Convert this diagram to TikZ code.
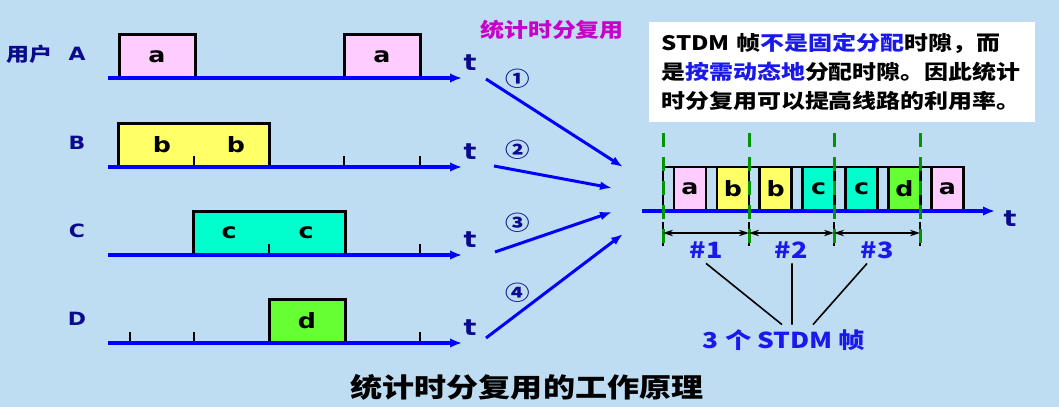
\documentclass[tikz,border=0pt]{standalone}
\usepackage{fontspec}
\setmainfont{Noto Sans CJK SC}[FakeStretch=1.2]
\newfontfamily\latinsans{DejaVu Sans}[FakeStretch=1.2]
\usetikzlibrary{arrows.meta,positioning,calc}

\definecolor{bgblue}{RGB}{190,220,242}
\definecolor{navy}{RGB}{10,10,140}
\definecolor{tblue}{RGB}{25,25,235}
\definecolor{magent}{RGB}{200,0,200}
\definecolor{pinkA}{RGB}{255,204,255}
\definecolor{yellowB}{RGB}{255,255,102}
\definecolor{tealC}{RGB}{0,255,204}
\definecolor{greenD}{RGB}{102,255,51}
\definecolor{dashgreen}{RGB}{0,150,0}

\tikzset{
  timeaxis/.style={blue, line width=0.8mm, -{Latex[length=3mm,width=2.4mm]}},
  userbox/.style={draw, line width=0.75mm, minimum height=11mm, inner sep=0pt,
    font=\latinsans\fontsize{15}{15}\selectfont\bfseries},
  slot/.style={draw, line width=0.7mm, minimum width=8mm, minimum height=11mm,
    inner sep=0pt, font=\latinsans\fontsize{15}{15}\selectfont\bfseries},
  boxtext/.style={font=\latinsans\fontsize{15}{15}\selectfont\bfseries},
  userlabel/.style={navy, font=\latinsans\fontsize{13}{13}\selectfont\bfseries},
  tlabel/.style={navy, font=\latinsans\fontsize{16}{16}\selectfont\bfseries},
  tickmark/.style={line width=0.5mm},
  feed/.style={blue, line width=0.75mm, -{Latex[length=3mm,width=2.2mm]}},
  circnum/.style={navy, font=\fontsize{14.5}{14.5}\selectfont\bfseries},
  framesep/.style={dashgreen, line width=0.75mm, dash pattern=on 3.5mm off 2.5mm},
  framespan/.style={line width=0.35mm,
    {Stealth[length=2.5mm,width=1.6mm]}-{Stealth[length=2.5mm,width=1.6mm]}},
  framenum/.style={tblue, font=\fontsize{16}{16}\selectfont\bfseries},
}

\begin{document}
\begin{tikzpicture}[x=0.25mm, y=-0.25mm]
  % Background
  \fill[bgblue] (0,0) rectangle (1059,407);
  \useasboundingbox (0,0) rectangle (1059,407);

  % Users A--D: labels and t
  \node[navy, font=\fontsize{13.6}{13.6}\selectfont\bfseries] (user) at (29,54) {用户};
  \foreach \name/\ay in {A/78,B/167,C/255,D/343} {
    \node[userlabel] (lab\name) at (77,\ay-24) {\name};
    \node[tlabel] (t\name) at (470,\ay-15) {t};
  }

  % Data boxes of each user
  \node[userbox, fill=pinkA, minimum width=19mm] (a1) at (157,56.5) {a};
  \node[userbox, fill=pinkA, minimum width=19mm] (a2) at (382,56.5) {a};
  \node[userbox, fill=yellowB, minimum width=37.5mm] (bbox) at (194,145) {};
  \node[boxtext] (b1) at (162,145) {b};
  \node[boxtext] (b2) at (236,145) {b};
  \node[userbox, fill=tealC, minimum width=37.75mm] (cbox) at (269.5,233) {};
  \node[boxtext] (c1) at (229,233) {c};
  \node[boxtext] (c2) at (306,233) {c};
  \node[userbox, fill=greenD, minimum width=19mm] (d1) at (307,321) {d};

  % Ticks
  \foreach \tx/\ty in {194/167,344/167,420/167,269/255,420/255,130/343,194/343,420/343}
    \draw[tickmark] (\tx,\ty) -- ++(0,-11);

  % Time axes
  \foreach \ay in {78,167,255,343}
    \draw[timeaxis] (108,\ay) -- (462,\ay);

  % Statistical TDM feed arrows
  \node[magent, font=\fontsize{14.2}{14.2}\selectfont\bfseries] (stdm) at (552,30) {统计时分复用};
  \coordinate (f1s) at (486,79);  \coordinate (f1e) at (623,167);
  \coordinate (f2s) at (494,166); \coordinate (f2e) at (612,188);
  \coordinate (f3s) at (495,252); \coordinate (f3e) at (612,212);
  \coordinate (f4s) at (486,338); \coordinate (f4e) at (623,234);
  \foreach \i in {1,...,4}
    \draw[feed] (f\i s) -- (f\i e);
  \node[circnum] (num1) at (518,79) {①};
  \node[circnum] (num2) at (518,150) {②};
  \node[circnum] (num3) at (518,223) {③};
  \node[circnum] (num4) at (518,293) {④};

  % Note box
  \node[fill=white, anchor=north west, inner xsep=3mm, minimum height=25mm,
        text width=90.5mm, align=left, font=\fontsize{14.2}{20.6}\selectfont\bfseries]
    (note) at (649,22)
    {STDM 帧\textcolor{tblue}{不是固定分配}时隙，而\\
     是\textcolor{tblue}{按需动态地}分配时隙。因此统计\\
     时分复用可以提高线路的利用率。};

  % STDM frame
  \draw[line width=0.7mm] (663,211) |- (964,167);
  \foreach \c/\lt [count=\i from 0] in {pinkA/a,yellowB/b,yellowB/b,tealC/c,tealC/c,greenD/d,pinkA/a}
    \node[slot, fill=\c] (s\i) at (690+42.9*\i,189) {\lt};
  \draw[timeaxis] (642,211) -- (995,211);
  \node[tlabel] (tmain) at (1010,219) {t};

  % Frame boundaries
  \foreach \x [count=\i from 0] in {663,749,834,920} {
    \draw[line width=0.4mm] (\x,222) -- (\x,246);
    \draw[framesep] (\x,133) -- (\x,252);
    \coordinate (g\i) at (\x,233);
  }
  \draw[framespan] (g0) -- (g1);
  \draw[framespan] (g1) -- (g2);
  \draw[framespan] (g2) -- (g3);
  \node[framenum] (n1) at (706,250) {\#1};
  \node[framenum] (n2) at (791,250) {\#2};
  \node[framenum] (n3) at (877,250) {\#3};

  % Three frames
  \node[tblue, font=\fontsize{15.6}{15.6}\selectfont\bfseries] (frames) at (784,340) {3 个 STDM 帧};
  \draw[line width=0.4mm] (n1.south) -- ([xshift=-0.5mm]frames.north);
  \draw[line width=0.4mm] ([xshift=0.25mm]n2.south) -- ([xshift=2mm]frames.north);
  \draw[line width=0.4mm] ([xshift=-2.5mm]n3.south) -- ([xshift=7.25mm]frames.north);

  % Caption
  \node[font=\fontsize{19}{19}\selectfont\bfseries] (caption) at (527,387) {统计时分复用的工作原理};
\end{tikzpicture}
\end{document}
